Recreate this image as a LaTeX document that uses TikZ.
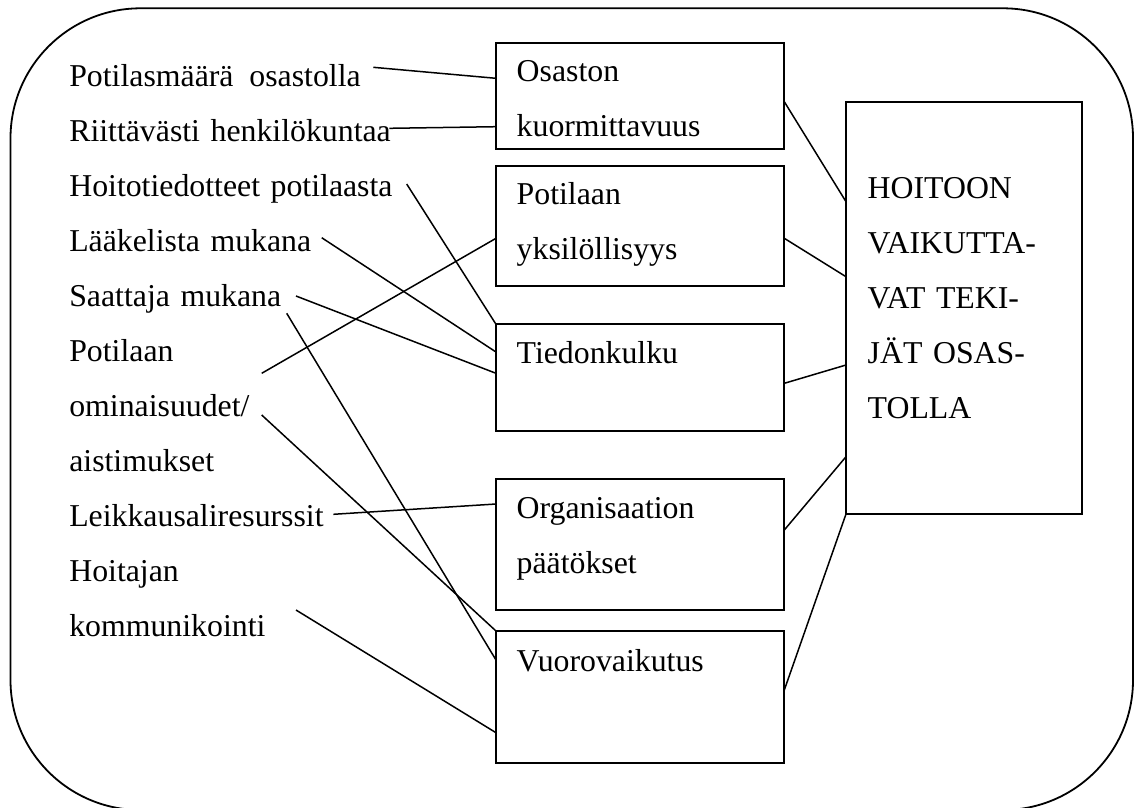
\documentclass[tikz,border=0pt]{standalone}
\usepackage{fontspec}
\setmainfont{Liberation Serif}
\usetikzlibrary{calc}
\tikzset{
  frame/.style={line width=1.8pt},
  boxnode/.style={draw, line width=1.8pt, inner sep=0pt, outer sep=0pt, anchor=north west},
  txt/.style={anchor=base west, inner sep=0pt, outer sep=0pt, align=left, text width=420pt,
              font=\rmfamily\fontsize{31.8}{55}\selectfont},
  link/.style={line width=1.5pt},
}
\begin{document}
\begin{tikzpicture}[x=1pt,y=-1pt]
\useasboundingbox (0,0) rectangle (1135,807);

% rounded outer frame
\begin{scope}
  \clip (0,0) rectangle (1135,807);
  \draw[frame, rounded corners=130pt] (10.5,8.3) rectangle (1133,810);
\end{scope}

% factor boxes
\node[boxnode, minimum width=288.3pt, minimum height=106.6pt] (b1) at (496,42.7) {};
\node[boxnode, minimum width=288.3pt, minimum height=120.3pt] (b2) at (496,165.7) {};
\node[boxnode, minimum width=288.3pt, minimum height=106.7pt] (b3) at (496,324.3) {};
\node[boxnode, minimum width=288.3pt, minimum height=131pt]   (b4) at (496,479) {};
\node[boxnode, minimum width=288.3pt, minimum height=131.7pt] (b5) at (496,631) {};
\node[boxnode, minimum width=236.3pt, minimum height=411.7pt] (big) at (846,102.3) {};

% box texts
\node[txt] (t1) at ($(b1.north west)+(20.7,39)$) {Osaston\\kuormittavuus};
\node[txt] (t2) at ($(b2.north west)+(20.7,39)$) {Potilaan\\yksilöllisyys};
\node[txt] (t3) at ($(b3.north west)+(20.7,39)$) {Tiedonkulku};
\node[txt] (t4) at ($(b4.north west)+(20.7,39)$) {Organisaation\\päätökset};
\node[txt] (t5) at ($(b5.north west)+(20.7,40)$) {Vuorovaikutus};
\node[txt] (tb) at ($(big.north west)+(21.7,95.7)$) {HOITOON\\VAIKUTTA-\\VAT TEKI-\\JÄT OSAS-\\TOLLA};

% left-hand items
\node[txt] (l1) at (69.3,86.3)  {Potilasmäärä\hspace{0.5em}osastolla};
\node[txt] (l2) at (69.3,141.3) {Riittävästi henkilökuntaa};
\node[txt] (l3) at (69.3,196.3) {Hoitotiedotteet potilaasta};
\node[txt] (l4) at (69.3,251.3) {Lääkelista mukana};
\node[txt] (l5) at (69.3,306.3) {Saattaja mukana};
\node[txt] (l6) at (69.3,361.3) {Potilaan\\ominaisuudet/\\aistimukset};
\node[txt] (l7) at (69.3,526.3) {Leikkausaliresurssit};
\node[txt] (l8) at (69.3,581.3) {Hoitajan\\kommunikointi};

% free ends of the connectors beside the items
\coordinate (s1)  at (373.3,67.3);
\coordinate (s2)  at (389.3,128.3);
\coordinate (s3)  at (406.7,184);
\coordinate (s4)  at (321.7,237.7);
\coordinate (s5)  at (296,296);
\coordinate (s6)  at (261.7,373.3);
\coordinate (s7)  at (286.7,313.3);
\coordinate (s8)  at (261.7,415);
\coordinate (s9)  at (333.3,514.3);
\coordinate (s10) at (296,610);

% items to factor boxes
\draw[link] (s1)  -- ($(b1.north west)+(0,35.6)$);
\draw[link] (s2)  -- ($(b1.north west)+(0,84)$);
\draw[link] (s3)  -- (b3.north west);
\draw[link] (s4)  -- ($(b3.north west)+(0,27.7)$);
\draw[link] (s5)  -- ($(b3.north west)+(0,49)$);
\draw[link] (s6)  -- ($(b2.north west)+(0,72.6)$);
\draw[link] (s7)  -- ($(b5.north west)+(0,29)$);
\draw[link] (s8)  -- (b5.north west);
\draw[link] (s9)  -- ($(b4.north west)+(0,25)$);
\draw[link] (s10) -- ($(b5.north west)+(0,101.7)$);

% factor boxes to the main box
\draw[link] ($(b1.north east)+(0,59)$)   -- ($(big.north west)+(0,99.4)$);
\draw[link] ($(b2.north east)+(0,72.6)$) -- ($(big.north west)+(0,174.4)$);
\draw[link] ($(b3.north east)+(0,59)$)   -- ($(big.north west)+(0,262.7)$);
\draw[link] ($(b4.north east)+(0,51)$)   -- ($(big.north west)+(0,354.4)$);
\draw[link] ($(b5.north east)+(0,59)$)   -- (big.south west);
\end{tikzpicture}
\end{document}
